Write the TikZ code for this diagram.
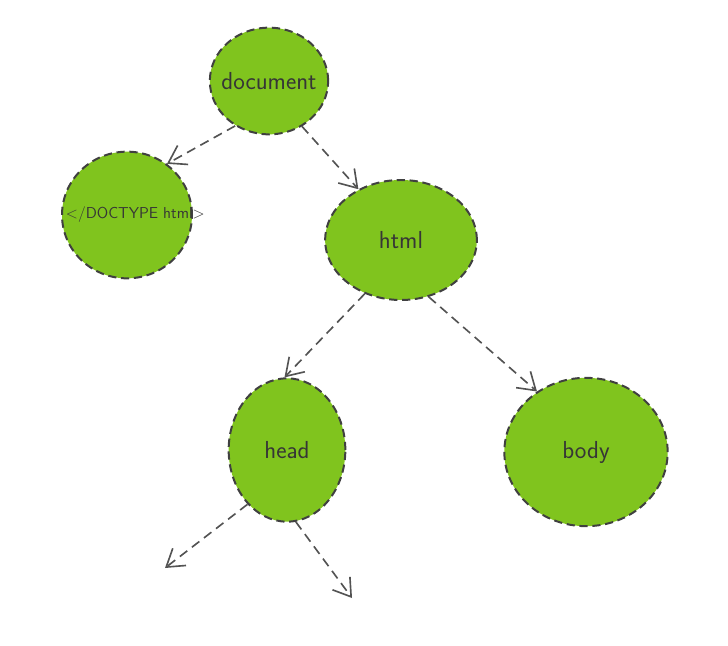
\documentclass[tikz,border=0pt]{standalone}
\usepackage{tikz}
\usetikzlibrary{arrows.meta,positioning,shapes.geometric}

\definecolor{leafgreen}{RGB}{128,196,30}
\definecolor{inkgray}{RGB}{64,64,64}

\begin{document}
\begin{tikzpicture}[x=0.03cm,y=-0.03cm,
    dom/.style={ellipse, fill=leafgreen, draw=inkgray, line width=1.7pt,
      dash pattern=on 7pt off 4pt, text=inkgray!85!black, inner sep=0pt,
      font=\sffamily\fontsize{21}{24}\selectfont},
    link/.style={draw=inkgray!90, line width=1.4pt, dash pattern=on 8pt off 5pt,
      -{Straight Barb[length=5mm,width=6.5mm,line width=1.4pt]}}]
    \useasboundingbox (0,0) rectangle (728,646);

    % Root
    \node[dom, minimum width=3.55cm, minimum height=3.2cm, inner xsep=-0.3cm] (document) at (269,81) {document};

    % Children of document
    \node[dom, minimum width=3.9cm, minimum height=3.8cm, inner xsep=-1.1cm,
      font=\sffamily\fontsize{13.5}{16}\selectfont] (doctype) at (127,215) {\hspace*{0.5cm}</DOCTYPE html>};
    \node[dom, minimum width=4.55cm, minimum height=3.6cm] (html) at (401,240) {html};

    % Children of html
    \node[dom, minimum width=3.5cm, minimum height=4.3cm] (head) at (287,450) {head};
    \node[dom, minimum width=4.9cm, minimum height=4.45cm] (body) at (586,452) {body};

    % Loose ends below head
    \coordinate (leftend) at (165,568);
    \coordinate (rightend) at (352,598);

    % Links
    \draw[link] (document.233) -- (doctype.52);
    \draw[link] (document.306) -- (html.130);
    \draw[link] (html.236) -- (head.92);
    \draw[link] (html.296) -- (body.129);
    \draw[link] (head.234) -- (leftend);
    \draw[link] (head.277) -- (rightend);
\end{tikzpicture}
\end{document}
